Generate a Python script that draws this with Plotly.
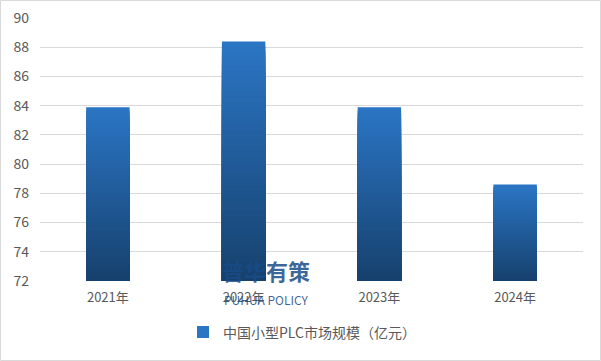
import plotly.graph_objects as go

categories = ["2021年", "2022年", "2023年", "2024年"]
values = [83.9, 88.4, 83.9, 78.6]
series_name = "中国小型PLC市场规模（亿元）"
y_tick_values = [72, 74, 76, 78, 80, 82, 84, 86, 88, 90]

AXIS_MIN = 72
N = 48
top_rgb = (43, 117, 196)
bot_rgb = (22, 64, 108)

fig = go.Figure()
for k in range(N):
    t = k / N
    r = round(top_rgb[0] + (bot_rgb[0] - top_rgb[0]) * t)
    g = round(top_rgb[1] + (bot_rgb[1] - top_rgb[1]) * t)
    b = round(top_rgb[2] + (bot_rgb[2] - top_rgb[2]) * t)
    fig.add_trace(go.Bar(
        x=categories,
        y=[(v - AXIS_MIN) * (1 - t) for v in values],
        base=[AXIS_MIN] * len(values),
        name=series_name,
        marker=dict(color=f"rgb({r},{g},{b})", line=dict(width=0)),
        showlegend=(k == 0),
        hoverinfo="skip" if k else None,
    ))

W, H = 601, 361
ml, mr, mt, mb = 40, 18, 18, 80
pw, ph = W - ml - mr, H - mt - mb

fig.update_layout(
    width=W, height=H,
    margin=dict(l=ml, r=mr, t=mt, b=mb, autoexpand=False),
    barmode="overlay",
    bargap=0.68,
    paper_bgcolor="white",
    plot_bgcolor="white",
    font=dict(family="Noto Sans CJK SC", size=13, color="#595959"),
    showlegend=True,
    legend=dict(orientation="h", x=(302 - ml) / pw, xanchor="center", y=-0.135, yanchor="top",
                font=dict(size=14, color="#595959"), itemwidth=30),
    xaxis=dict(showgrid=False, showline=False, ticks="", ticklabelstandoff=7, automargin=False,
               tickfont=dict(size=13, color="#595959")),
    yaxis=dict(range=[72, 90], tickvals=y_tick_values, showgrid=True, gridcolor="#d9d9d9",
               gridwidth=1, showline=False, zeroline=False, ticks="", ticklabelstandoff=10,
               automargin=False, tickfont=dict(size=14, color="#595959")),
)

# outer frame
fig.add_shape(type="rect", xref="paper", yref="paper",
              x0=(0.5 - ml) / pw, x1=(W - 0.5 - ml) / pw,
              y0=(mt + ph - (H - 0.5)) / ph, y1=(mt + ph - 0.5) / ph,
              line=dict(color="#d9d9d9", width=1), fillcolor="rgba(0,0,0,0)", layer="below")

# watermark
fig.add_annotation(text="<b>普华有策</b>", xref="paper", yref="paper",
                   x=(266 - ml) / pw, y=(mt + ph - 270) / ph, xanchor="center", yanchor="middle",
                   showarrow=False,
                   font=dict(size=22, color="rgba(25,75,135,0.85)", family="Noto Sans CJK SC"))
fig.add_annotation(text="PUHUA POLICY", xref="paper", yref="paper",
                   x=(266 - ml) / pw, y=(mt + ph - 299) / ph, xanchor="center", yanchor="middle",
                   showarrow=False,
                   font=dict(size=12, color="rgba(25,75,135,0.85)", family="Noto Sans CJK SC"))

fig.write_html("out.html", config={"displayModeBar": False},
               post_script="document.body.style.margin='0';document.body.style.overflow='hidden';")
